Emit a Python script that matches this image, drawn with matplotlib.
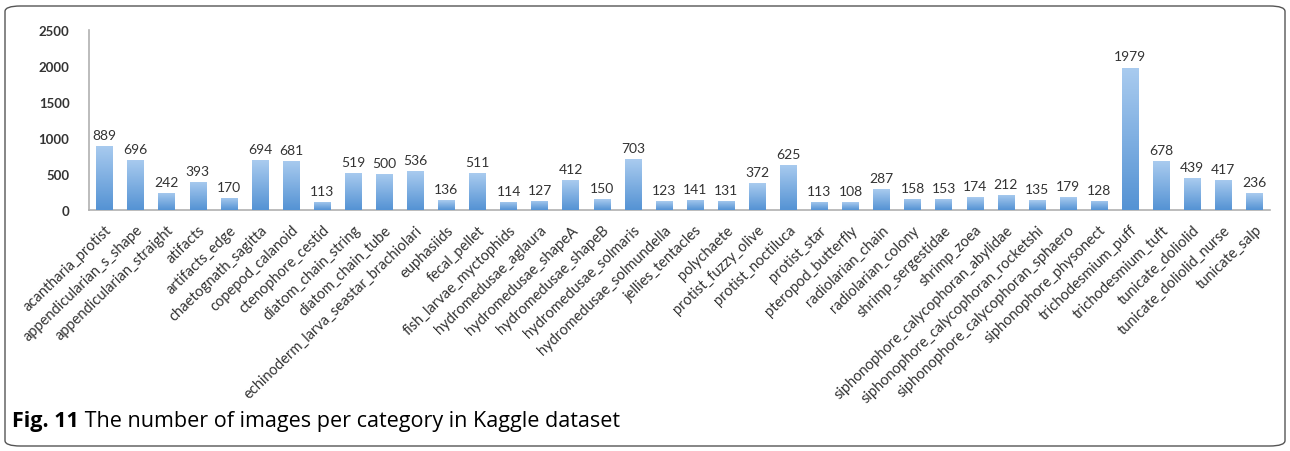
import numpy as np
import matplotlib
matplotlib.use("Agg")
import matplotlib.pyplot as plt
from matplotlib.patches import FancyBboxPatch
from matplotlib.colors import LinearSegmentedColormap

plt.rcParams['font.family'] = ['Lato', 'DejaVu Sans']

# data
categories = [
    "acantharia_protist", "appendicularian_s_shape", "appendicularian_straight",
    "atifacts", "artifacts_edge", "chaetognath_sagitta", "copepod_calanoid",
    "ctenophore_cestid", "diatom_chain_string", "diatom_chain_tube",
    "echinoderm_larva_seastar_brachiolari", "euphasiids", "fecal_pellet",
    "fish_larvae_myctophids", "hydromedusae_aglaura", "hydromedusae_shapeA",
    "hydromedusae_shapeB", "hydromedusae_solmaris", "hydromedusae_solmundella",
    "jellies_tentacles", "polychaete", "protist_fuzzy_olive", "protist_noctiluca",
    "protist_star", "pteropod_butterfly", "radiolarian_chain", "radiolarian_colony",
    "shrimp_sergestidae", "shrimp_zoea", "siphonophore_calycophoran_abylidae",
    "siphonophore_calycophoran_rocketshi", "siphonophore_calycophoran_sphaero",
    "siphonophore_physonect", "trichodesmium_puff", "trichodesmium_tuft",
    "tunicate_doliolid", "tunicate_doliolid_nurse", "tunicate_salp",
]
counts = [889, 696, 242, 393, 170, 694, 681, 113, 519, 500, 536, 136, 511, 114,
          127, 412, 150, 703, 123, 141, 131, 372, 625, 113, 108, 287, 158, 153,
          174, 212, 135, 179, 128, 1979, 678, 439, 417, 236]
yticks = [0, 500, 1000, 1500, 2000, 2500]

fig = plt.figure(figsize=(12.9, 4.52), dpi=100)

# rounded frame around the figure
frame = FancyBboxPatch((5 / 1290, 5 / 452), 1280 / 1290, 440 / 452,
                       boxstyle="round,pad=0,rounding_size=0.012",
                       transform=fig.transFigure, fill=False,
                       edgecolor="#555555", linewidth=1.0)
fig.patches.append(frame)

ax = fig.add_axes([89 / 1290, 1 - 211 / 452, (1270 - 89) / 1290, 180 / 452])
x = np.arange(len(categories))
bars = ax.bar(x, counts, width=0.53, color="#7fb0e3", zorder=2)

# vertical gradient in each bar, lighter on top
cmap = LinearSegmentedColormap.from_list("blu", ["#5593d4", "#a9cbef"])
grad = np.linspace(0, 1, 64).reshape(-1, 1)
for b in bars:
    x0, y0 = b.get_x(), b.get_y()
    w, h = b.get_width(), b.get_height()
    im = ax.imshow(grad, cmap=cmap, origin="lower", aspect="auto",
                   extent=[x0, x0 + w, y0, y0 + h], zorder=3)
    im.set_clip_path(b)

for xi, v in zip(x, counts):
    ax.text(xi, v + 70, str(v), ha="center", va="bottom",
            fontsize=10, color="#333333")

ax.set_xlim(-0.5, len(categories) - 0.5)
ax.set_ylim(0, 2500)
ax.set_yticks(yticks)
ax.set_yticklabels([str(t) for t in yticks], fontsize=9.5, fontweight="bold",
                   color="#333333")
ax.set_xticks(x)
ax.set_xticklabels(categories, rotation=44, ha="right", rotation_mode="anchor",
                   fontsize=10.5, color="#333333")
ax.tick_params(axis="both", length=0)
ax.tick_params(axis="x", pad=9)
ax.tick_params(axis="y", pad=14)
for s in ["top", "right"]:
    ax.spines[s].set_visible(False)
for s in ["left", "bottom"]:
    ax.spines[s].set_color("#b0b0b0")
    ax.spines[s].set_linewidth(1.2)

# caption
t1 = fig.text(12 / 1290, 1 - 422 / 452, "Fig. 11", fontsize=15.5,
              fontweight="bold", va="center", family=["Open Sans", "DejaVu Sans"])
ax.annotate(" The number of images per category in Kaggle dataset",
            xy=(1, 0.5), xycoords=t1, va="center", ha="left", fontsize=15.5,
            family=["Open Sans", "DejaVu Sans"], annotation_clip=False)

fig.savefig("out.png", dpi=100)
